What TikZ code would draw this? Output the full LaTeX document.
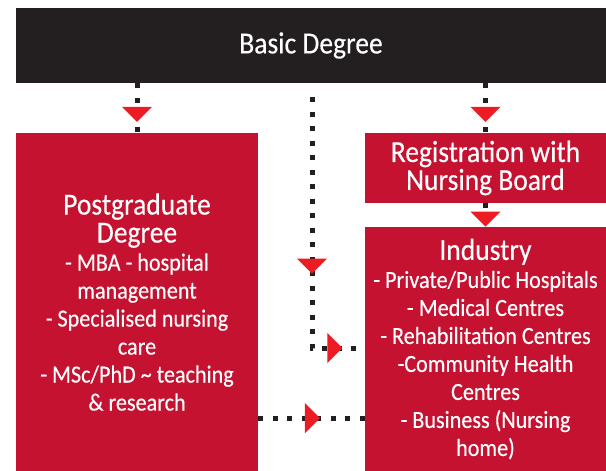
\documentclass[tikz,border=0pt]{standalone}
\usepackage{fontspec}
\setmainfont[FakeStretch=0.9, FakeBold=0.3]{Carlito}
\usepackage{tikz}
\usetikzlibrary{arrows.meta}
\usetikzlibrary{positioning}
\usetikzlibrary{decorations.markings}
\definecolor{boxred}{RGB}{196,18,48}
\definecolor{trired}{RGB}{237,28,36}
\definecolor{boxblack}{RGB}{35,31,32}
\newcommand{\headsize}{\fontsize{15.3}{14}\selectfont}
\tikzset{>=latex}
\tikzstyle{box} = [rectangle, fill=boxred, text=white, align=center, inner sep=0, font=\fontsize{12.3}{14}\selectfont]
\tikzstyle{dotline} = [draw=boxblack, line width=2.5pt, dash pattern=on 2.5pt off 4.75pt]
\tikzstyle{endtip} = [-{Triangle[width=15pt, length=7.5pt, line width=0pt, color=trired]}]
\tikzset{midtip/.style={postaction={decorate, decoration={markings, mark=at position #1 with {\arrow{Triangle[width=15pt, length=7.5pt, line width=0pt, color=trired]}}}}}}

\begin{document}
\begin{tikzpicture}[x=0.5pt, y=-0.5pt]
\useasboundingbox (0,0) rectangle (606,471);
\node [box, fill=boxblack, minimum width=295pt, minimum height=37.5pt, font=\headsize] (basic) at (311,45.5) {Basic Degree};
\node [box, minimum width=121pt, minimum height=169pt] (pg) at (137,302) {{\headsize Postgraduate}\\{\headsize Degree}\\- MBA - hospital\\management\\- Specialised nursing\\care\\- MSc/PhD \textasciitilde{} teaching\\\& research};
\node [box, minimum width=120.5pt, minimum height=35pt, font=\headsize] (reg) at (485.5,168) {Registration with\\Nursing Board};
\node [box, minimum width=120.5pt, minimum height=122pt] (ind) at (485.5,349) {{\headsize Industry}\\- Private/Public Hospitals\\- Medical Centres\\- Rehabilitation Centres\\-Community Health\\Centres\\- Business (Nursing\\home)};
\coordinate (turn) at (312,348);
\coordinate (low) at (312,418);
% connectors
\draw [dotline, midtip=0.78] (basic.south -| pg) -- (pg.north);
\draw [dotline, midtip=0.78] (basic.south -| reg) -- (reg.north);
\draw [dotline, endtip] (reg) -- (ind);
\draw [dotline, shorten <=7pt, midtip=0.6, midtip=0.93] (basic.south -| turn) -- (turn) -- (turn -| ind.west);
\draw [dotline, midtip=0.58] (pg.east |- low) -- (low -| ind.west);
\end{tikzpicture}
\end{document}
